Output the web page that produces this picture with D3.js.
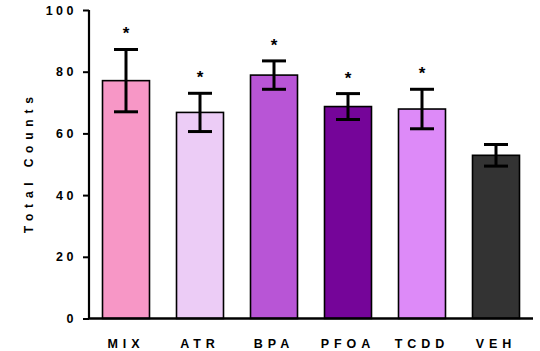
<!DOCTYPE html>
<html>
<head>
<meta charset="utf-8">
<script src="https://cdn.jsdelivr.net/npm/d3@7"></script>
<style>
  body { margin: 0; background: #fff; }
  svg { display: block; font-family: "Liberation Sans", Arial, sans-serif; }
</style>
</head>
<body>
<div id="chart"></div>
<script>
// Data
const groups = ["MIX", "ATR", "BPA", "PFOA", "TCDD", "VEH"];
const means = [77.1, 66.8, 78.9, 68.7, 67.9, 52.9];
const sems = [10.1, 6.2, 4.6, 4.2, 6.4, 3.5];
const significant = [true, true, true, true, true, false];
const colors = ["#f797c6", "#ecccf6", "#b855d6", "#750599", "#dd8af8", "#333333"];
const yTicks = [0, 20, 40, 60, 80, 100];

const width = 540;
const height = 351;
const margin = { top: 10, right: 7, bottom: 32, left: 89 };

const svg = d3.select("#chart")
  .append("svg")
  .attr("width", width)
  .attr("height", height);

const x = d3.scaleBand()
  .domain(groups)
  .range([margin.left, width - margin.right])
  .paddingInner(0.365)
  .paddingOuter(0.1825);

const y = d3.scaleLinear()
  .domain([0, 100])
  .range([height - margin.bottom - 0.5, margin.top]);

// Bars
svg.selectAll("rect.bar")
  .data(groups)
  .enter()
  .append("rect")
  .attr("class", "bar")
  .attr("x", d => x(d))
  .attr("y", (d, i) => y(means[i]))
  .attr("width", x.bandwidth())
  .attr("height", (d, i) => y(0) - y(means[i]))
  .attr("fill", (d, i) => colors[i])
  .attr("stroke", "#000")
  .attr("stroke-width", 1.6);

// Error bars
const capW = 24;
const err = svg.selectAll("g.err")
  .data(groups)
  .enter()
  .append("g")
  .attr("class", "err")
  .attr("stroke", "#000")
  .attr("stroke-width", 3);

err.append("line")
  .attr("x1", d => x(d) + x.bandwidth() / 2)
  .attr("x2", d => x(d) + x.bandwidth() / 2)
  .attr("y1", (d, i) => y(means[i] + sems[i]))
  .attr("y2", (d, i) => y(means[i] - sems[i]));

err.append("line")
  .attr("x1", d => x(d) + x.bandwidth() / 2 - capW / 2)
  .attr("x2", d => x(d) + x.bandwidth() / 2 + capW / 2)
  .attr("y1", (d, i) => y(means[i] + sems[i]))
  .attr("y2", (d, i) => y(means[i] + sems[i]));

err.append("line")
  .attr("x1", d => x(d) + x.bandwidth() / 2 - capW / 2)
  .attr("x2", d => x(d) + x.bandwidth() / 2 + capW / 2)
  .attr("y1", (d, i) => y(means[i] - sems[i]))
  .attr("y2", (d, i) => y(means[i] - sems[i]));

// Significance stars
svg.selectAll("text.star")
  .data(groups.filter((d, i) => significant[i]))
  .enter()
  .append("text")
  .attr("class", "star")
  .attr("x", d => x(d) + x.bandwidth() / 2)
  .attr("y", d => {
    const i = groups.indexOf(d);
    return y(means[i] + sems[i]) - 10;
  })
  .attr("text-anchor", "middle")
  .attr("font-size", 17)
  .attr("font-weight", "bold")
  .text("*");

// Y axis
const yAxis = svg.append("g")
  .attr("transform", `translate(${margin.left},0)`)
  .call(d3.axisLeft(y).tickValues(yTicks).tickSize(6).tickPadding(6));
yAxis.select(".domain")
  .attr("stroke-width", 2.2)
  .attr("d", `M0,${y(100)}V${y(0)}`);
yAxis.selectAll(".tick line").attr("stroke-width", 2);
yAxis.selectAll(".tick text")
  .attr("font-size", 12.5)
  .attr("font-weight", "bold")
  .attr("font-family", "Liberation Sans, Arial, sans-serif")
  .attr("letter-spacing", "3.5px")
  .attr("fill", "#000");

// X axis
const xAxis = svg.append("g")
  .attr("transform", `translate(0,${y(0)})`)
  .call(d3.axisBottom(x).tickSize(0).tickPadding(21));
xAxis.select(".domain")
  .attr("stroke-width", 2.4)
  .attr("d", `M${margin.left - 1},0H${width - margin.right}`);
xAxis.selectAll(".tick text")
  .attr("font-size", 12.5)
  .attr("font-weight", "bold")
  .attr("font-family", "Liberation Sans, Arial, sans-serif")
  .attr("letter-spacing", "5px")
  .attr("fill", "#000");

// Y label
svg.append("text")
  .attr("transform", `translate(33,${(y(0) + y(100)) / 2 - 2}) rotate(-90)`)
  .attr("text-anchor", "middle")
  .attr("font-size", 12)
  .attr("font-weight", "bold")
  .attr("letter-spacing", "5.8px")
  .text("Total Counts");
</script>
</body>
</html>
